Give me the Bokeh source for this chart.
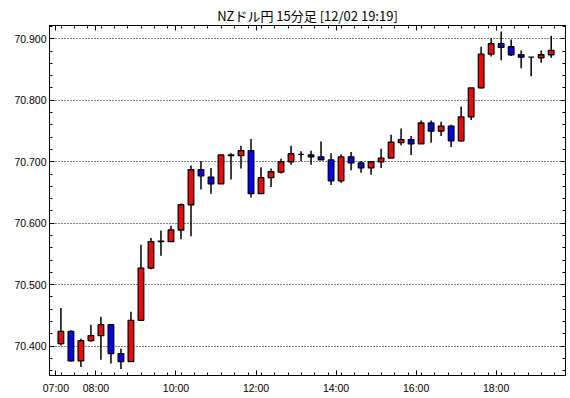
from bokeh.plotting import figure
from bokeh.models import Range1d, FixedTicker, LinearAxis, ColumnDataSource
from bokeh.embed import file_html
from bokeh.resources import INLINE

title_text = "NZドル円 15分足 [12/02 19:19]"

# 15-minute bars from 07:00 to 19:15
times = ["%02d:%02d" % (7 + (k * 15) // 60, (k * 15) % 60) for k in range(50)]

opens = [70.404, 70.424, 70.376, 70.409, 70.417, 70.435, 70.388, 70.375, 70.442, 70.527,
         70.570, 70.570, 70.589, 70.630, 70.687, 70.675, 70.664, 70.710, 70.710, 70.718,
         70.648, 70.674, 70.683, 70.700, 70.712, 70.711, 70.708, 70.703, 70.669, 70.708,
         70.698, 70.690, 70.700, 70.706, 70.731, 70.736, 70.729, 70.763, 70.750, 70.758,
         70.734, 70.773, 70.820, 70.875, 70.892, 70.887, 70.874, 70.870, 70.869, 70.874]
highs = [70.462, 70.426, 70.412, 70.435, 70.448, 70.435, 70.396, 70.456, 70.565, 70.576,
         70.588, 70.596, 70.632, 70.694, 70.701, 70.690, 70.711, 70.714, 70.726, 70.737,
         70.691, 70.689, 70.705, 70.726, 70.717, 70.718, 70.733, 70.714, 70.712, 70.716,
         70.701, 70.700, 70.721, 70.744, 70.754, 70.742, 70.767, 70.767, 70.765, 70.760,
         70.790, 70.820, 70.887, 70.901, 70.912, 70.899, 70.881, 70.870, 70.881, 70.905]
lows = [70.401, 70.375, 70.366, 70.407, 70.378, 70.372, 70.363, 70.375, 70.442, 70.525,
        70.547, 70.570, 70.574, 70.579, 70.655, 70.648, 70.664, 70.671, 70.689, 70.642,
        70.648, 70.659, 70.681, 70.695, 70.701, 70.695, 70.703, 70.662, 70.666, 70.686,
        70.682, 70.679, 70.690, 70.706, 70.727, 70.711, 70.729, 70.731, 70.742, 70.724,
        70.733, 70.768, 70.819, 70.871, 70.865, 70.872, 70.852, 70.839, 70.861, 70.869]
closes = [70.424, 70.376, 70.409, 70.417, 70.435, 70.388, 70.375, 70.442, 70.527, 70.570,
          70.571, 70.589, 70.630, 70.687, 70.677, 70.664, 70.711, 70.711, 70.718, 70.648,
          70.674, 70.684, 70.700, 70.713, 70.712, 70.708, 70.703, 70.669, 70.708, 70.698,
          70.690, 70.700, 70.706, 70.732, 70.736, 70.729, 70.763, 70.750, 70.758, 70.734,
          70.773, 70.820, 70.875, 70.892, 70.886, 70.874, 70.870, 70.870, 70.874, 70.881]

x_tick_hours = [7, 8, 10, 12, 14, 16, 18]
x_tick_labels = ["07:00", "08:00", "10:00", "12:00", "14:00", "16:00", "18:00"]
y_ticks = [70.4, 70.5, 70.6, 70.7, 70.8, 70.9]

# bar centre = start time + half a 15-minute period (hours)
xs = [int(t[:2]) + int(t[3:]) / 60 + 0.125 for t in times]
tops = [max(o, c) for o, c in zip(opens, closes)]
bots = [min(o, c) for o, c in zip(opens, closes)]
cols = ["#ff0000" if c > o else ("#0000ff" if c < o else "#000000") for o, c in zip(opens, closes)]

src = ColumnDataSource(dict(x=xs, high=highs, low=lows, top=tops, bottom=bots, color=cols))

p = figure(width=570, height=398, output_backend="svg", toolbar_location=None,
           x_range=Range1d(6.84, 19.7325), y_range=Range1d(70.3523, 70.9216),
           min_border_left=49, min_border_right=5, min_border_top=25, min_border_bottom=23)

p.title.text = title_text
p.title.align = "center"
p.title.text_font = "Noto Sans CJK JP"
p.title.text_font_size = "13px"
p.title.text_font_style = "normal"
p.title.standoff = 2
p.title.text_color = "black"

p.background_fill_color = "white"
p.border_fill_color = "white"
p.outline_line_color = "black"

minor_x = [6.8 + k / 3 for k in range(0, 40)]
minor_x = [m for m in minor_x if 6.84 <= m <= 19.73]
minor_y = [70.36 + 0.02 * k for k in range(0, 29)]

xt = FixedTicker(ticks=x_tick_hours, minor_ticks=minor_x)
yt = FixedTicker(ticks=y_ticks, minor_ticks=minor_y)

xa = p.xaxis[0]
xa.ticker = xt
xa.major_label_overrides = {h: l for h, l in zip(x_tick_hours, x_tick_labels)}
ya = p.yaxis[0]
ya.ticker = yt
ya.major_label_overrides = {v: "%.3f" % v for v in y_ticks}

for ax in (xa, ya):
    ax.major_tick_in = 5
    ax.major_tick_out = 0
    ax.minor_tick_in = 3
    ax.minor_tick_out = 0
    ax.axis_line_color = "black"
    ax.major_tick_line_color = "black"
    ax.minor_tick_line_color = "black"
    ax.major_label_text_font = "Liberation Sans"
    ax.major_label_text_font_size = "10.5px"
    ax.major_label_text_color = "black"
xa.major_label_standoff = 6
ya.major_label_standoff = 3

# frame ticks on the top and right edges (no labels drawn)
top_ax = LinearAxis(ticker=xt, major_label_text_font_size="1px", major_label_text_color=None,
                    major_label_overrides={h: "" for h in x_tick_hours}, major_label_standoff=0,
                    major_tick_in=5, major_tick_out=0, minor_tick_in=3, minor_tick_out=0,
                    axis_line_color="black")
right_ax = LinearAxis(ticker=yt, major_label_text_font_size="1px", major_label_text_color=None,
                      major_label_overrides={v: "" for v in y_ticks}, major_label_standoff=0,
                      major_tick_in=5, major_tick_out=0, minor_tick_in=3, minor_tick_out=0,
                      axis_line_color="black")
p.add_layout(top_ax, "above")
p.add_layout(right_ax, "right")

p.xgrid.grid_line_color = None
p.ygrid.ticker = yt
p.ygrid.grid_line_color = "black"
p.ygrid.grid_line_dash = "1 2"
p.ygrid.grid_line_width = 1

p.segment(x0="x", y0="high", x1="x", y1="low", source=src, line_color="black", line_width=1.5)
p.vbar(x="x", width=0.14, top="top", bottom="bottom", source=src,
       fill_color="color", line_color="black", line_width=1.3)

open("out.html", "w").write(file_html(p, INLINE))
